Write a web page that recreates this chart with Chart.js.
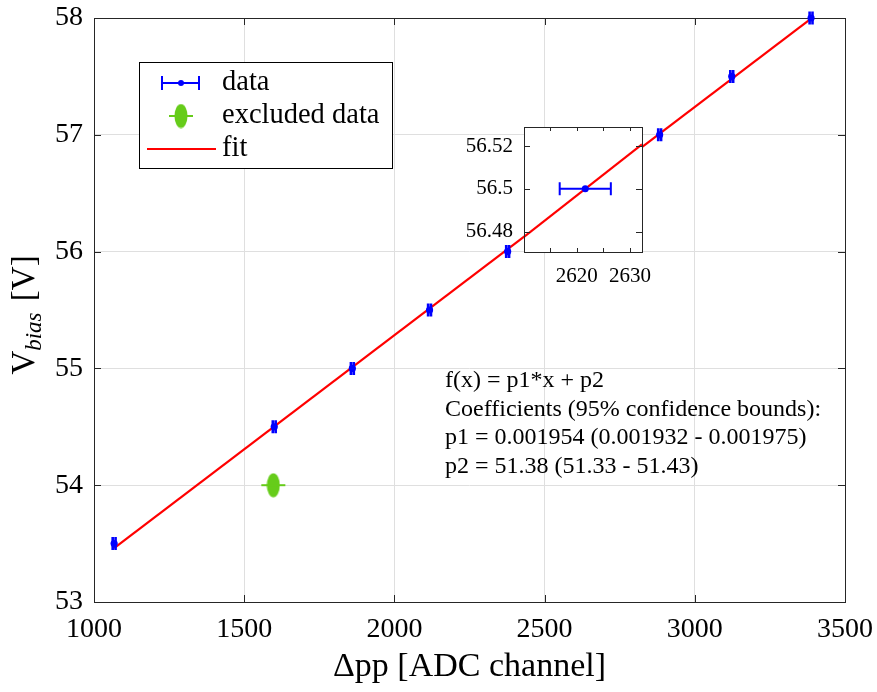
<!DOCTYPE html>
<html>
<head>
<meta charset="utf-8">
<script src="https://cdn.jsdelivr.net/npm/chart.js@4.4.1/dist/chart.umd.min.js"></script>
<style>
  html, body { margin: 0; padding: 0; background: #ffffff; }
  #wrap { position: relative; width: 877px; height: 692px; }
  #main { position: absolute; left: 0; top: 0; }
  #inset { position: absolute; left: 420px; top: 110px; }
</style>
</head>
<body>
<div id="wrap">
  <canvas id="main" width="877" height="692"></canvas>
  <canvas id="inset" width="240" height="190"></canvas>
</div>
<script>
// Bias voltage against peak-to-peak ADC amplitude
const adcChannel   = [1067, 1600, 1860, 2117, 2377, 2621.6, 2883, 3123, 3387];
const biasVoltage  = [53.5, 54.5, 55, 55.5, 56, 56.5, 57, 57.5, 58];
const adcError     = [4.8, 4.8, 4.8, 4.8, 4.8, 4.8, 4.8, 4.8, 4.8];

const excludedChannel = [1597];
const excludedVoltage = [54];
const excludedError   = [40];

// Linear fit f(x) = p1*x + p2
const fitP1 = 0.001954;
const fitP2 = 51.3774;
const p1Bounds = [0.001932, 0.001975];
const p2Bounds = [51.33, 51.43];

const xTicks = [1000, 1500, 2000, 2500, 3000, 3500];
const yTicks = [53, 54, 55, 56, 57, 58];

// Zoomed view around the 56.5 V point
const insetXRange = [2610.1, 2632.25];
const insetYRange = [56.4705, 56.5289];
const insetXTicks = [2615, 2620, 2625, 2630];
const insetXLabels = ['', '2620', '', '2630'];
const insetYTicks = [56.48, 56.5, 56.52];
const insetYLabels = ['56.48', '56.5', '56.52'];

const legendLabels = ['data', 'excluded data', 'fit'];

const SERIF = '"Liberation Serif", "DejaVu Serif", serif';
const BLUE = '#0000ff';
const GREEN = '#66cc1a';
const RED = '#ff0000';
const AXIS = '#262626';

const fitAt = x => fitP1 * x + fitP2;

// Filled ellipse used as the marker of the excluded point
function ellipseMarker(w, h) {
  const c = document.createElement('canvas');
  c.width = w; c.height = h;
  const g = c.getContext('2d');
  g.fillStyle = GREEN;
  g.beginPath();
  g.ellipse(w / 2, h / 2, w / 2 - 0.5, h / 2 - 0.5, 0, 0, Math.PI * 2);
  g.fill();
  return c;
}
const greenMarker = ellipseMarker(14, 25);

// Keep the plot area exactly where the layout padding puts it
function fixScaleBox(size, horizontal) {
  return s => {
    if (horizontal) s.height = size; else s.width = size;
    s.paddingTop = 0; s.paddingBottom = 0; s.paddingLeft = 0; s.paddingRight = 0;
  };
}

// Horizontal error bars with vertical end caps
function drawXErrors(chart, dsIndex, errors, color, capHalf, lw) {
  const meta = chart.getDatasetMeta(dsIndex);
  const ds = chart.data.datasets[dsIndex];
  const xs = chart.scales.x;
  const ctx = chart.ctx;
  ctx.save();
  ctx.strokeStyle = color;
  ctx.lineWidth = lw;
  meta.data.forEach((pt, i) => {
    const v = ds.data[i];
    const x0 = xs.getPixelForValue(v.x - errors[i]);
    const x1 = xs.getPixelForValue(v.x + errors[i]);
    const y = pt.y;
    ctx.beginPath();
    ctx.moveTo(x0, y); ctx.lineTo(x1, y);
    if (capHalf > 0) {
      ctx.moveTo(x0, y - capHalf); ctx.lineTo(x0, y + capHalf);
      ctx.moveTo(x1, y - capHalf); ctx.lineTo(x1, y + capHalf);
    }
    ctx.stroke();
  });
  ctx.restore();
}

// Axes box with inward tick marks
function drawBox(chart, xVals, yVals, xLen, yLen) {
  const { ctx, chartArea: a, scales } = chart;
  ctx.save();
  ctx.strokeStyle = AXIS;
  ctx.lineWidth = 1;
  ctx.beginPath();
  xVals.forEach(v => {
    const px = Math.round(scales.x.getPixelForValue(v)) + 0.5;
    ctx.moveTo(px, a.bottom); ctx.lineTo(px, a.bottom - xLen);
    ctx.moveTo(px, a.top); ctx.lineTo(px, a.top + xLen);
  });
  yVals.forEach(v => {
    const py = Math.round(scales.y.getPixelForValue(v)) + 0.5;
    ctx.moveTo(a.left, py); ctx.lineTo(a.left + yLen, py);
    ctx.moveTo(a.right, py); ctx.lineTo(a.right - yLen, py);
  });
  ctx.stroke();
  ctx.strokeRect(Math.round(a.left) + 0.5, Math.round(a.top) + 0.5,
                 Math.round(a.right - a.left), Math.round(a.bottom - a.top));
  ctx.restore();
}

const mainDecor = {
  id: 'mainDecor',
  beforeDatasetsDraw(chart) {
    drawBox(chart, xTicks.slice(1, -1), yTicks.slice(1, -1), 7, 7);
  },
  afterDatasetsDraw(chart) {
    drawXErrors(chart, 0, adcError, BLUE, 6.5, 2.6);
    drawXErrors(chart, 1, excludedError, GREEN, 0, 2);
  },
  afterDraw(chart) {
    const ctx = chart.ctx;
    ctx.save();

    // y-axis title with subscript
    ctx.translate(34, 315);
    ctx.rotate(-Math.PI / 2);
    ctx.fillStyle = '#000';
    ctx.textBaseline = 'alphabetic';
    const mainFont = '33px ' + SERIF;
    const subFont = 'italic 23px ' + SERIF;
    ctx.font = mainFont; const wV = ctx.measureText('V').width;
    ctx.font = subFont;  const wSub = ctx.measureText('bias').width;
    ctx.font = mainFont; const wUnit = ctx.measureText(' [V]').width;
    let x = -(wV + wSub + 3 + wUnit) / 2;
    ctx.font = mainFont; ctx.fillText('V', x, 0); x += wV;
    ctx.font = subFont; ctx.fillText('bias', x, 7); x += wSub + 3;
    ctx.font = mainFont; ctx.fillText(' [V]', x, 0);
    ctx.restore();

    // Legend
    ctx.save();
    ctx.fillStyle = '#fff';
    ctx.fillRect(139.5, 62.5, 253, 106);
    ctx.strokeStyle = '#000';
    ctx.lineWidth = 1;
    ctx.strokeRect(139.5, 62.5, 253, 106);

    const rows = [83, 116, 149];
    // data entry
    ctx.strokeStyle = BLUE; ctx.lineWidth = 2;
    ctx.beginPath();
    ctx.moveTo(162, rows[0]); ctx.lineTo(199, rows[0]);
    ctx.moveTo(162, rows[0] - 7); ctx.lineTo(162, rows[0] + 7);
    ctx.moveTo(199, rows[0] - 7); ctx.lineTo(199, rows[0] + 7);
    ctx.stroke();
    ctx.fillStyle = BLUE;
    ctx.beginPath(); ctx.arc(181, rows[0], 3, 0, Math.PI * 2); ctx.fill();
    // excluded entry
    ctx.strokeStyle = GREEN;
    ctx.beginPath(); ctx.moveTo(169, rows[1]); ctx.lineTo(193, rows[1]); ctx.stroke();
    ctx.drawImage(greenMarker, 181 - 7, rows[1] - 12.5);
    // fit entry
    ctx.strokeStyle = RED;
    ctx.beginPath(); ctx.moveTo(147, rows[2]); ctx.lineTo(216, rows[2]); ctx.stroke();

    ctx.fillStyle = '#000';
    ctx.font = '28.5px ' + SERIF;
    ctx.textBaseline = 'middle';
    legendLabels.forEach((t, i) => ctx.fillText(t, 222, rows[i]));

    // Fit summary
    const lines = [
      'f(x) = p1*x + p2',
      'Coefficients (95% confidence bounds):',
      `p1 = ${fitP1.toFixed(6)} (${p1Bounds[0].toFixed(6)} - ${p1Bounds[1].toFixed(6)})`,
      `p2 = ${fitP2.toFixed(2)} (${p2Bounds[0].toFixed(2)} - ${p2Bounds[1].toFixed(2)})`
    ];
    ctx.font = '24px ' + SERIF;
    lines.forEach((t, i) => ctx.fillText(t, 445, 381 + i * 28.5));
    ctx.restore();
  }
};

const tickFont = { family: SERIF, size: 28 };

new Chart(document.getElementById('main'), {
  type: 'scatter',
  data: {
    datasets: [
      {
        label: legendLabels[0],
        data: adcChannel.map((x, i) => ({ x, y: biasVoltage[i] })),
        backgroundColor: BLUE, borderWidth: 0, pointRadius: 3.6,
        clip: false, order: 0
      },
      {
        label: legendLabels[1],
        data: excludedChannel.map((x, i) => ({ x, y: excludedVoltage[i] })),
        pointStyle: greenMarker, pointRadius: 12,
        clip: false, order: 1
      },
      {
        type: 'line',
        label: legendLabels[2],
        data: [adcChannel[0], adcChannel[adcChannel.length - 1]].map(x => ({ x, y: fitAt(x) })),
        borderColor: RED, borderWidth: 2.2, pointRadius: 0, fill: false,
        clip: false, order: 2
      }
    ]
  },
  options: {
    responsive: false,
    animation: false,
    events: [],
    devicePixelRatio: 1,
    layout: { padding: { top: 18, right: 32, left: 0, bottom: 0 } },
    plugins: { legend: { display: false }, tooltip: { enabled: false } },
    scales: {
      x: {
        type: 'linear', position: 'bottom', min: 1000, max: 3500,
        afterBuildTicks: s => { s.ticks = xTicks.map(v => ({ value: v })); },
        afterFit: fixScaleBox(90, true),
        ticks: {
          font: tickFont, color: '#000', padding: 11, maxRotation: 0, autoSkip: false,
          callback: v => String(v)
        },
        grid: { color: '#dfdfdf', lineWidth: 1, drawTicks: false },
        border: { display: false },
        title: {
          display: true, text: 'Δpp [ADC channel]', color: '#000',
          font: { family: SERIF, size: 34 }, padding: { top: 0, bottom: 5 }
        }
      },
      y: {
        type: 'linear', position: 'left', min: 53, max: 58,
        afterBuildTicks: s => { s.ticks = yTicks.map(v => ({ value: v })); },
        afterFit: fixScaleBox(94, false),
        ticks: { font: tickFont, color: '#000', padding: 11, callback: v => String(v) },
        grid: { color: '#dfdfdf', lineWidth: 1, drawTicks: false },
        border: { display: false }
      }
    }
  },
  plugins: [mainDecor]
});

// Inset chart
const insetDecor = {
  id: 'insetDecor',
  beforeDatasetsDraw(chart) {
    const { ctx, chartArea: a } = chart;
    ctx.save();
    ctx.fillStyle = '#fff';
    ctx.fillRect(a.left, a.top, a.right - a.left, a.bottom - a.top);
    ctx.restore();
  },
  afterDatasetsDraw(chart) {
    drawXErrors(chart, 0, [adcError[5]], BLUE, 6.5, 2);
    drawBox(chart, insetXTicks, insetYTicks, 4, 6);
  }
};

new Chart(document.getElementById('inset'), {
  type: 'scatter',
  data: {
    datasets: [
      {
        data: [{ x: adcChannel[5], y: biasVoltage[5] }],
        backgroundColor: BLUE, borderWidth: 0, pointRadius: 3.5, order: 0
      },
      {
        type: 'line',
        data: insetXRange.map(x => ({ x, y: fitAt(x) })),
        borderColor: RED, borderWidth: 2.2, pointRadius: 0, fill: false, order: 1
      }
    ]
  },
  options: {
    responsive: false,
    animation: false,
    events: [],
    devicePixelRatio: 1,
    layout: { padding: { top: 17, right: 18, left: 0, bottom: 0 } },
    plugins: { legend: { display: false }, tooltip: { enabled: false } },
    scales: {
      x: {
        type: 'linear', position: 'bottom', min: insetXRange[0], max: insetXRange[1],
        afterBuildTicks: s => { s.ticks = insetXTicks.map(v => ({ value: v })); },
        afterFit: fixScaleBox(48, true),
        ticks: {
          font: { family: SERIF, size: 21 }, color: '#000', padding: 12, maxRotation: 0, autoSkip: false,
          callback: (v, i) => insetXLabels[i]
        },
        grid: { display: false, drawTicks: false },
        border: { display: false }
      },
      y: {
        type: 'linear', position: 'left', min: insetYRange[0], max: insetYRange[1],
        afterBuildTicks: s => { s.ticks = insetYTicks.map(v => ({ value: v })); },
        afterFit: fixScaleBox(104, false),
        ticks: {
          font: { family: SERIF, size: 21 }, color: '#000', padding: 11, autoSkip: false,
          callback: (v, i) => insetYLabels[i]
        },
        grid: { display: false, drawTicks: false },
        border: { display: false }
      }
    }
  },
  plugins: [insetDecor]
});
</script>
</body>
</html>
